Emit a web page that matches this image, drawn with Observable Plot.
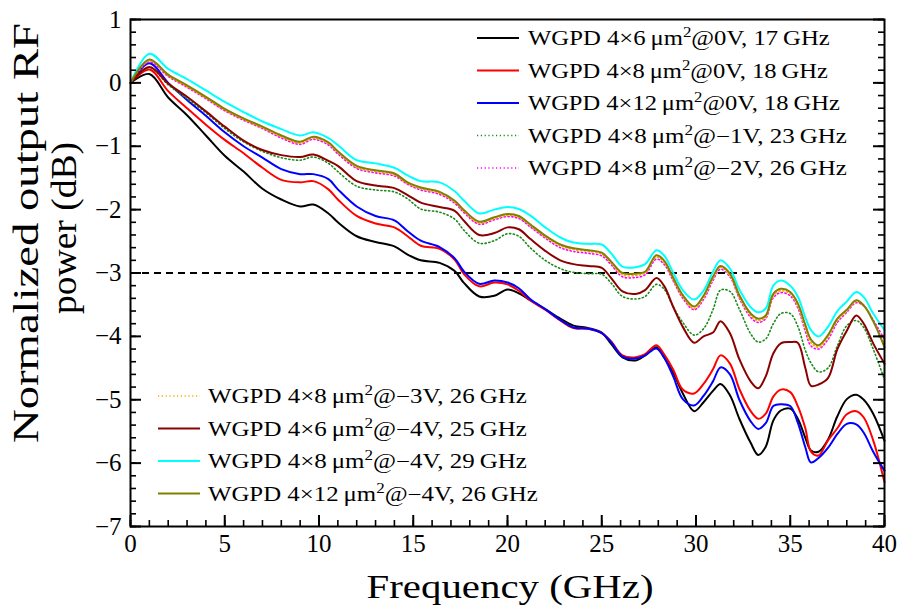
<!DOCTYPE html>
<html><head><meta charset="utf-8">
<script src="https://cdn.jsdelivr.net/npm/d3@7"></script>
<script src="https://cdn.jsdelivr.net/npm/@observablehq/plot@0.6"></script>
<style>
body{margin:0;background:#fff}
#chart{width:901px;height:609px}
</style>
</head><body><div id="chart"></div>
<script>
// Frequency grid (GHz)
const freq = [0,1,2,3,4,5,6,7,8,9,9.7,10.5,11,12,13,14,14.7,15.4,16.4,17.2,17.7,18.5,19.3,20,20.6,21.2,22,22.8,23.5,24.3,25,25.5,26.1,26.8,27.3,27.9,28.3,28.8,29.3,29.9,30.4,30.9,31.3,31.8,32.3,32.9,33.3,33.7,34.1,34.5,35,35.4,35.8,36.1,36.5,37,37.5,38,38.5,38.9,39.4,40];

// Normalized output RF power (dB)
const p4x6_0V = [0,0.14,-0.23,-0.51,-0.83,-1.15,-1.40,-1.67,-1.84,-1.95,-1.92,-2.06,-2.20,-2.42,-2.51,-2.58,-2.71,-2.80,-2.84,-2.97,-3.16,-3.37,-3.36,-3.26,-3.32,-3.43,-3.57,-3.72,-3.83,-3.87,-3.94,-4.12,-4.33,-4.38,-4.30,-4.17,-4.33,-4.58,-4.90,-5.18,-5.04,-4.86,-4.75,-4.93,-5.30,-5.68,-5.87,-5.74,-5.33,-5.17,-5.14,-5.30,-5.60,-5.80,-5.82,-5.63,-5.26,-4.99,-4.92,-5.00,-5.22,-5.65];
const p4x8_0V = [0,0.21,-0.13,-0.40,-0.66,-0.90,-1.11,-1.34,-1.53,-1.57,-1.55,-1.68,-1.84,-2.10,-2.22,-2.28,-2.42,-2.57,-2.62,-2.79,-3.02,-3.21,-3.15,-3.18,-3.28,-3.43,-3.58,-3.75,-3.87,-3.88,-3.95,-4.08,-4.30,-4.33,-4.28,-4.14,-4.28,-4.53,-4.84,-4.90,-4.75,-4.52,-4.30,-4.43,-4.83,-5.18,-5.30,-5.22,-4.95,-4.84,-4.88,-5.10,-5.45,-5.82,-5.88,-5.64,-5.45,-5.23,-5.18,-5.28,-5.64,-6.30];
const p4x12_0V = [0,0.31,0.00,-0.27,-0.52,-0.78,-1.00,-1.18,-1.36,-1.44,-1.44,-1.52,-1.68,-1.95,-2.10,-2.17,-2.34,-2.49,-2.59,-2.77,-2.98,-3.17,-3.12,-3.15,-3.24,-3.41,-3.57,-3.74,-3.86,-3.88,-3.95,-4.09,-4.32,-4.35,-4.30,-4.19,-4.33,-4.64,-4.99,-5.09,-4.94,-4.71,-4.49,-4.60,-5.00,-5.34,-5.46,-5.37,-5.10,-5.07,-5.10,-5.36,-5.75,-5.99,-5.92,-5.76,-5.54,-5.38,-5.39,-5.52,-5.82,-6.12];
const p4x8_m1V = [0,0.24,-0.03,-0.25,-0.47,-0.72,-0.93,-1.08,-1.18,-1.22,-1.17,-1.27,-1.40,-1.63,-1.69,-1.72,-1.83,-1.99,-2.04,-2.15,-2.33,-2.53,-2.49,-2.38,-2.42,-2.60,-2.80,-2.93,-2.99,-3.01,-3.02,-3.16,-3.37,-3.41,-3.37,-3.18,-3.25,-3.54,-3.78,-3.98,-3.88,-3.58,-3.27,-3.29,-3.57,-3.96,-4.09,-4.04,-3.80,-3.64,-3.64,-3.84,-4.22,-4.42,-4.56,-4.50,-4.15,-3.83,-3.75,-3.86,-4.20,-4.68];
const p4x8_m2V = [0,0.33,0.10,-0.07,-0.25,-0.44,-0.59,-0.72,-0.87,-0.97,-0.89,-0.98,-1.12,-1.35,-1.42,-1.47,-1.60,-1.69,-1.76,-1.90,-2.05,-2.23,-2.16,-2.11,-2.14,-2.27,-2.45,-2.60,-2.66,-2.69,-2.73,-2.87,-3.06,-3.07,-3.03,-2.78,-2.86,-3.13,-3.40,-3.58,-3.42,-3.12,-2.94,-3.06,-3.40,-3.70,-3.78,-3.72,-3.39,-3.31,-3.36,-3.55,-3.92,-4.15,-4.20,-4.05,-3.78,-3.62,-3.47,-3.52,-3.74,-4.05];
const p4x8_m3V = [0,0.35,0.11,-0.06,-0.24,-0.43,-0.58,-0.71,-0.85,-0.95,-0.87,-0.96,-1.10,-1.33,-1.40,-1.45,-1.59,-1.67,-1.74,-1.88,-2.03,-2.21,-2.14,-2.09,-2.12,-2.25,-2.43,-2.57,-2.63,-2.66,-2.70,-2.84,-3.03,-3.04,-3.00,-2.75,-2.83,-3.11,-3.38,-3.56,-3.39,-3.09,-2.91,-3.04,-3.38,-3.67,-3.75,-3.70,-3.36,-3.28,-3.33,-3.52,-3.87,-4.10,-4.17,-4.01,-3.75,-3.60,-3.45,-3.52,-3.76,-4.12];
const p4x6_m4V = [0,0.25,-0.01,-0.22,-0.45,-0.69,-0.91,-1.06,-1.14,-1.17,-1.13,-1.23,-1.31,-1.55,-1.62,-1.66,-1.77,-1.89,-1.96,-2.02,-2.18,-2.40,-2.37,-2.28,-2.31,-2.46,-2.65,-2.80,-2.86,-2.89,-2.92,-3.08,-3.29,-3.33,-3.27,-3.08,-3.20,-3.54,-3.85,-4.10,-4.00,-3.94,-3.76,-3.95,-4.36,-4.71,-4.82,-4.63,-4.27,-4.11,-4.09,-4.10,-4.50,-4.78,-4.76,-4.66,-4.20,-3.91,-3.67,-3.80,-4.11,-4.43];
const p4x8_m4V = [0,0.46,0.22,0.06,-0.12,-0.30,-0.46,-0.61,-0.73,-0.83,-0.78,-0.87,-0.98,-1.22,-1.27,-1.34,-1.46,-1.55,-1.57,-1.71,-1.86,-2.06,-2.00,-1.96,-1.99,-2.09,-2.28,-2.44,-2.52,-2.54,-2.55,-2.69,-2.90,-2.91,-2.86,-2.64,-2.72,-3.00,-3.27,-3.42,-3.28,-2.98,-2.80,-2.93,-3.26,-3.54,-3.62,-3.56,-3.20,-3.12,-3.20,-3.37,-3.70,-3.90,-4.00,-3.85,-3.60,-3.45,-3.30,-3.38,-3.64,-3.90];
const p4x12_m4V = [0,0.37,0.13,-0.04,-0.22,-0.41,-0.56,-0.69,-0.83,-0.93,-0.85,-0.94,-1.08,-1.31,-1.38,-1.43,-1.57,-1.65,-1.72,-1.86,-2.01,-2.19,-2.12,-2.07,-2.10,-2.23,-2.41,-2.55,-2.61,-2.64,-2.68,-2.82,-3.00,-3.01,-2.98,-2.72,-2.80,-3.08,-3.35,-3.53,-3.36,-3.06,-2.89,-3.01,-3.35,-3.64,-3.72,-3.67,-3.33,-3.25,-3.30,-3.48,-3.82,-4.05,-4.14,-3.98,-3.72,-3.58,-3.43,-3.51,-3.76,-4.17];

// Series descriptions (legend order)
const seriesValues = [p4x6_0V, p4x8_0V, p4x12_0V, p4x8_m1V, p4x8_m2V, p4x8_m3V, p4x6_m4V, p4x8_m4V, p4x12_m4V];
const seriesSize = ["4×6", "4×8", "4×12", "4×8", "4×8", "4×8", "4×6", "4×8", "4×12"];
const seriesBias = ["0V", "0V", "0V", "−1V", "−2V", "−3V", "−4V", "−4V", "−4V"];
const seriesBandwidth = ["17", "18", "18", "23", "26", "26", "25", "29", "26"];
const seriesColor = ["#000000", "#ff0000", "#0000ff", "#1a8a1a", "#ff00ff", "#ffa500", "#8b0000", "#00ffff", "#808000"];
const seriesDotted = [false, false, false, true, true, true, false, false, false];

// Ticks
const xTicks = [0, 5, 10, 15, 20, 25, 30, 35, 40];
const xMinorTicks = d3.range(0, 41, 1);
const yTicks = [-7, -6, -5, -4, -3, -2, -1, 0, 1];
const yMinorTicks = d3.range(0, 41).map(i => Math.round((-7 + i * 0.2) * 10) / 10);
const refLevel = -3;

const W = 901, H = 609, mT = 19, mB = 83, mL = 130, mR = 17;
const plotW = W - mL - mR, plotH = H - mT - mB;
const majorLen = 11, minorLen = 6;

const rows = seriesValues.flatMap((vals, s) => freq.map((f, j) => ({f, v: vals[j], s})));

const lineMarks = seriesValues.map((vals, s) => Plot.line(rows.filter(d => d.s === s), {
  x: "f", y: "v",
  stroke: seriesColor[s],
  strokeWidth: seriesDotted[s] ? 1.6 : 2,
  strokeDasharray: seriesDotted[s] ? "1.2,2.6" : null,
  curve: "catmull-rom"
}));

const chart = Plot.plot({
  width: W,
  height: H,
  marginTop: mT,
  marginBottom: mB,
  marginLeft: mL,
  marginRight: mR,
  style: {fontFamily: "'Liberation Serif', serif", fontSize: "25px", background: "#fff", color: "#000", overflow: "visible"},
  x: {domain: [0, 40]},
  y: {domain: [-7, 1]},
  marks: [
    Plot.ruleY([refLevel], {stroke: "#000", strokeWidth: 1.8, strokeDasharray: "7,5"}),
    ...lineMarks,
    // inward ticks
    Plot.ruleX(xMinorTicks, {stroke: "#000", strokeWidth: 1.6, insetTop: plotH - minorLen}),
    Plot.ruleX(xTicks, {stroke: "#000", strokeWidth: 2, insetTop: plotH - majorLen}),
    Plot.ruleY(yMinorTicks, {stroke: "#000", strokeWidth: 1.6, insetRight: plotW - minorLen}),
    Plot.ruleY(yTicks, {stroke: "#000", strokeWidth: 2, insetRight: plotW - majorLen}),
    Plot.ruleY(yMinorTicks, {stroke: "#000", strokeWidth: 1.6, insetLeft: plotW - minorLen}),
    Plot.ruleY(yTicks, {stroke: "#000", strokeWidth: 2, insetLeft: plotW - majorLen}),
    Plot.axisX({anchor: "bottom", ticks: xTicks, tickSize: 0, tickPadding: 8, label: null, tickFormat: d => d}),
    Plot.axisY({anchor: "left", ticks: yTicks, tickSize: 0, tickPadding: 9, label: null}),
    Plot.frame({stroke: "#000", strokeWidth: 2})
  ]
});

document.getElementById("chart").appendChild(chart);
const svg = d3.select(chart);

function fitWidth(textSel, target) {
  const w = textSel.node().getComputedTextLength();
  return w > 0 ? target / w : 1;
}

// Axis titles
const xt = svg.append("g").attr("transform", "translate(510,598)");
const xtText = xt.append("text").attr("text-anchor", "middle")
  .attr("font-family", "'Liberation Serif', serif").attr("font-size", 34).attr("fill", "#000")
  .text("Frequency (GHz)");
xtText.attr("transform", `scale(${fitWidth(xtText, 287)},1)`);

const yTitleLines = ["Normalized output RF", "power (dB)"];
const yTitleBase = [38, 76];
const yTitleLen = [420, 172];
const yTitleCenter = [233, 228];
yTitleLines.forEach((t, i) => {
  const g = svg.append("g").attr("transform", `translate(${yTitleBase[i]},${yTitleCenter[i]}) rotate(-90)`);
  const tx = g.append("text").attr("text-anchor", "middle")
    .attr("font-family", "'Liberation Serif', serif").attr("font-size", 35).attr("fill", "#000").text(t);
  tx.attr("transform", `scale(${fitWidth(tx, yTitleLen[i])},1)`);
});

// Legends
const legendGroups = [
  {items: [0, 1, 2, 3, 4], lineX: [477, 519], textX: 528, rowY: [38, 70.5, 103, 135.5, 168], widths: [302, 300, 312, 319, 319]},
  {items: [5, 6, 7, 8], lineX: [158, 200], textX: 208, rowY: [396, 428.5, 461, 493.5], widths: [319, 319, 319, 330]}
];
legendGroups.forEach(lg => {
  lg.items.forEach((s, k) => {
    const y = lg.rowY[k];
    svg.append("line").attr("x1", lg.lineX[0]).attr("x2", lg.lineX[1]).attr("y1", y).attr("y2", y)
      .attr("stroke", seriesColor[s]).attr("stroke-width", seriesDotted[s] ? 1.6 : 2)
      .attr("stroke-dasharray", seriesDotted[s] ? "1.2,2.6" : null);
    const g = svg.append("g").attr("transform", `translate(${lg.textX},${y + 7})`);
    const tx = g.append("text").attr("text-anchor", "start")
      .attr("font-family", "'Liberation Serif', serif").attr("font-size", 20.5).attr("fill", "#000");
    tx.append("tspan").text(`WGPD ${seriesSize[s]}\u2009μm`);
    tx.append("tspan").attr("font-size", 14).attr("dy", -8).text("2");
    tx.append("tspan").attr("dy", 8).text(`@${seriesBias[s]}, ${seriesBandwidth[s]}\u2009GHz`);
    tx.attr("transform", `scale(${fitWidth(tx, lg.widths[k])},1)`);
  });
});
</script>
</body></html>
